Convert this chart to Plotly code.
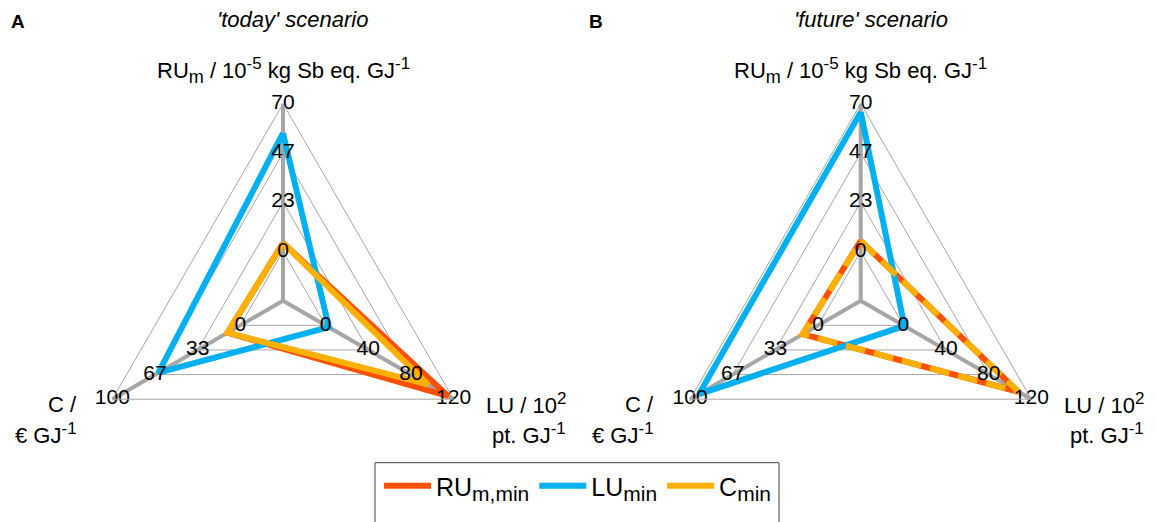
import plotly.graph_objects as go

# ---------------- data ----------------
categories = ["RU", "LU", "C"]
axis_max = [70, 120, 100]

today_RU_min = [4, 115, 10]
today_LU_min = [56, 3, 64]
today_C_min = [4, 96, 10]

future_RU_min = [5, 108, 12]
future_LU_min = [66, 1, 93]
future_C_min = [5, 108, 12]

RU_ticks = ["0", "23", "47", "70"]
LU_ticks = ["0", "40", "80", "120"]
C_ticks = ["0", "33", "67", "100"]
tick_fractions = [0, 1 / 3, 2 / 3, 1]

S = "<span style='font-size:%dpx'>%s</span>"
series_names = ["RU<sub>" + S % (21, "m,min") + "</sub>",
                "LU<sub>" + S % (21, "min") + "</sub>",
                "C<sub>" + S % (21, "min") + "</sub>"]
colors = ["#FF5000", "#00B0F0", "#FFB000"]

W, H = 1157, 522
FONT = "Liberation Sans, Arial, sans-serif"

# the value 0 of every axis sits one grid step away from the centre:
# radial coordinate = 0.25 + 0.75 * value / axis maximum
OFFSET = 0.25


def to_r(frac):
    return OFFSET + (1 - OFFSET) * frac


def norm(vals):
    return [to_r(v / m) for v, m in zip(vals, axis_max)]


def closed(vals):
    return vals + vals[:1]


tick_r = [to_r(f) for f in tick_fractions]

fig = go.Figure()

panels = [
    ("polar", [today_RU_min, today_LU_min, today_C_min], [None, None, None], True),
    ("polar2", [future_RU_min, future_LU_min, future_C_min], [None, None, "20px,9px"], False),
]

for sub, data, dashes, show in panels:
    for name, vals, col, dash in zip(series_names, data, colors, dashes):
        fig.add_trace(go.Scatterpolar(
            r=closed(norm(vals)), theta=closed(categories), mode="lines",
            line=dict(color=col, width=6, dash=dash),
            name=name, showlegend=show, subplot=sub, hoverinfo="skip",
        ))
    for cat, labels in zip(categories, [RU_ticks, LU_ticks, C_ticks]):
        fig.add_trace(go.Scatterpolar(
            r=tick_r, theta=[cat] * len(tick_r), mode="text",
            text=labels, textposition="middle center",
            cliponaxis=False,
            textfont=dict(family=FONT, size=21, color="#000000"),
            showlegend=False, subplot=sub, hoverinfo="skip",
        ))

R = 197
centers = [283, 860.7]
cy = 300.7


def polar_layout(cx):
    return dict(
        domain=dict(x=[(cx - R) / W, (cx + R) / W], y=[1 - (cy + R) / H, 1 - (cy - R) / H]),
        gridshape="linear",
        bgcolor="white",
        radialaxis=dict(range=[0, 1], tickvals=tick_r, showticklabels=False,
                        ticks="", showline=False, gridcolor="#A6A6A6", gridwidth=1),
        angularaxis=dict(categoryorder="array", categoryarray=categories, rotation=90,
                         direction="clockwise", showticklabels=False, ticks="",
                         showline=True, linecolor="#A6A6A6", linewidth=1,
                         gridcolor="#A6A6A6", gridwidth=3.5),
    )


def ann(text, x, y, xanchor="center", size=22, yanchor="middle"):
    return dict(text=text, x=x / W, y=1 - y / H, xref="paper", yref="paper",
                xanchor=xanchor, yanchor=yanchor, showarrow=False,
                font=dict(family=FONT, size=size, color="#000000"))


sub17 = lambda t: "<sub>" + S % (18, t) + "</sub>"
sup17 = lambda t: "<sup>" + S % (17, t) + "</sup>"

annotations = []
for i, (letter, title) in enumerate([("A", "'today' scenario"), ("B", "'future' scenario")]):
    dx = i * (centers[1] - centers[0])
    annotations += [
        ann("<b>%s</b>" % letter, 9 + dx, 21, xanchor="left", size=19),
        ann("<i>%s</i>" % title, 293 + dx, 20, size=22),
        ann("RU" + sub17("m") + " / 10" + sup17("-5") + " kg Sb eq. GJ" + sup17("-1"),
            283 + dx, 70, size=22),
        ann("C /", 78.5 + dx, 404, xanchor="right", size=22),
        ann("€ GJ" + sup17("-1"), 78.5 + dx, 433, xanchor="right", size=22),
        ann("LU / 10" + sup17("2"), 568 + dx, 403, xanchor="right", size=22),
        ann("pt. GJ" + sup17("-1"), 568 + dx, 433, xanchor="right", size=22),
    ]

shapes = [dict(type="rect", xref="paper", yref="paper",
               x0=375 / W, x1=779 / W, y0=1 - 545 / H, y1=1 - 462.7 / H,
               line=dict(color="#404040", width=1), fillcolor="rgba(0,0,0,0)", layer="below")]

fig.update_layout(
    width=W, height=H,
    margin=dict(l=0, r=0, t=0, b=0, autoexpand=False),
    paper_bgcolor="white", plot_bgcolor="white",
    polar=polar_layout(centers[0]),
    polar2=polar_layout(centers[1]),
    annotations=annotations,
    shapes=shapes,
    showlegend=True,
    legend=dict(orientation="h", x=379 / W, xanchor="left", y=1 - 463 / H, yanchor="top",
                borderwidth=0, bgcolor="rgba(0,0,0,0)",
                font=dict(family=FONT, size=25, color="#000000"), itemwidth=47,
                traceorder="normal"),
)

fig.write_html("out.html")
